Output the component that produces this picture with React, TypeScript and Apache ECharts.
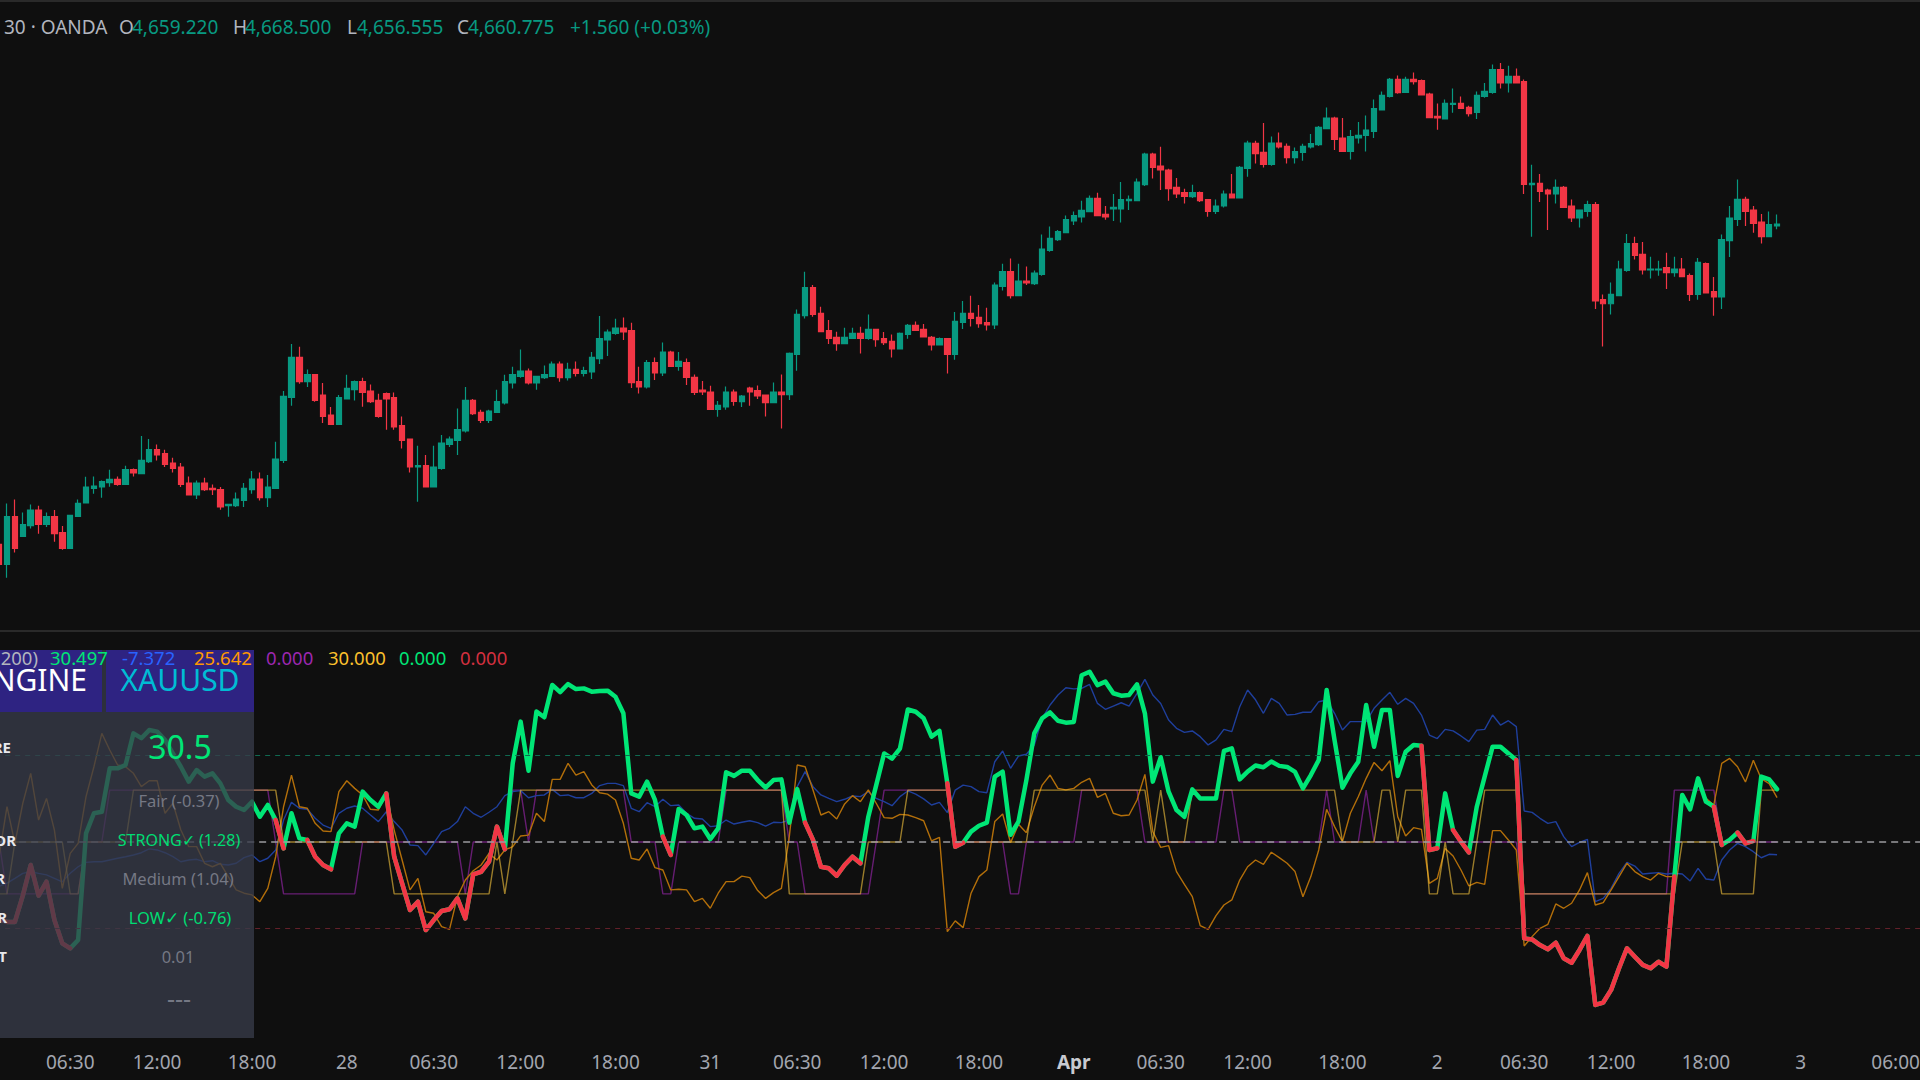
import { useEffect, useRef } from 'react';
import * as echarts from 'echarts';

// 30 min XAUUSD candles, first one sits just off the left edge
const opens = [
  4404.5,4388.5,4426.7,4410.9,4419.5,4432,4420.5,4426.7,4413.9,4401.3,
  4426.9,4437.6,4449.3,4450.4,4453.9,4456.5,4452.5,4464.3,4461.1,4470.7,
  4480.3,4477.1,4469.6,4466.4,4453.6,4444,4453.6,4449.3,4448.3,4435.5,
  4435.5,4439.7,4448.3,4456.8,4441.9,4449.3,4471.7,4522.1,4554.1,4534.7,
  4540.3,4524,4508,4500.5,4520.8,4528.3,4534.7,4527.2,4519.7,4525.1,
  4521.9,4499.5,4488.8,4466.4,4467.5,4450.4,4465.3,4484.5,4487.7,4495.2,
  4519.7,4510.1,4503.7,4510.1,4517.6,4533.6,4538.9,4543.2,4533.6,4537.9,
  4538.9,4548.8,4537.9,4544.5,4541.3,4542.4,4553.1,4568,4573.3,4577.6,
  4575.5,4534.7,4530.4,4549.9,4541.6,4558.4,4546.9,4549.9,4538.1,4528,
  4526.4,4512.5,4514.4,4526.4,4518.7,4529.6,4527.5,4524,4517.9,4526.4,
  4524.3,4556.5,4587.5,4609.9,4589.3,4575.5,4570.1,4565.1,4569.3,4573.3,
  4569.3,4576.5,4569.1,4566.9,4560.8,4572.5,4579.7,4576.5,4570.1,4564,
  4569.1,4556.5,4582.1,4589.3,4586.1,4581.9,4580,4610.9,4622.7,4603.5,
  4615.2,4613.1,4620.5,4639.7,4648.3,4653.9,4663.2,4666.4,4670.7,4681.3,
  4668.5,4672.8,4672.8,4679.5,4679.5,4692.3,4716.8,4707.2,4704,4690.1,
  4685.9,4682.7,4685.9,4680.3,4670.9,4675.2,4684.8,4681.6,4705.3,4725.3,
  4718.1,4708.5,4725.6,4722.9,4713.9,4718.1,4722.4,4724.3,4737.1,4745.6,
  4729.6,4718.9,4729.6,4731.7,4734.9,4752,4762.9,4776.5,4766.1,4776.5,
  4775.5,4764.8,4746.9,4744.8,4756.5,4757.3,4754.1,4750.1,4762.9,4766.1,
  4784.3,4773.6,4778.9,4774.7,4692.3,4693.3,4688,4684.8,4690.1,4675.2,
  4665.6,4670.9,4676.3,4600.3,4597,4603.5,4623.7,4645.1,4636.5,4624,
  4624,4625.9,4621.9,4624.8,4619.5,4604.5,4629.1,4606.7,4602.4,4647.5,
  4664.5,4680.5,4672,4662.4,4650.7,4659.22,
];
const highs = [
  4408,4437.3,4440.5,4430.1,4436.5,4435.5,4430.1,4432,4419.2,4428,
  4440.5,4458.7,4458.9,4455.7,4464.3,4458.9,4467.5,4465.3,4491.2,4488.8,
  4484.5,4480.3,4473.9,4469.6,4458.9,4455.7,4457.9,4452.5,4450.4,4436.6,
  4446.1,4453.6,4463.2,4462.1,4460,4486.7,4527.2,4564.8,4562.7,4544.5,
  4540.5,4533.6,4514.4,4524,4540.3,4535.7,4537.9,4532.5,4525.1,4526.1,
  4526.1,4506.9,4489,4483.5,4476,4483.5,4492,4490.9,4513.3,4530.4,
  4520.8,4512.3,4512.3,4528.3,4540.3,4546.7,4560.5,4545.3,4539,4547.7,
  4550.9,4550.9,4549.9,4550.9,4546.7,4558.4,4587.2,4576.5,4585.1,4586.1,
  4581.9,4546.7,4552,4554.1,4566.1,4559.5,4558.4,4553.3,4540.5,4535.2,
  4531.5,4519.2,4530.9,4528.5,4524,4530.7,4531.7,4524.2,4534.1,4540.5,
  4558.1,4592.5,4622.7,4612,4594.7,4584,4574.7,4577.9,4577.9,4578.7,
  4588.5,4576.8,4574.4,4572.5,4574.1,4580.8,4582.9,4580.8,4571.2,4570.1,
  4569.3,4590.4,4599.2,4603.5,4596,4593.9,4614.1,4629.1,4633.3,4629.1,
  4626.9,4623.7,4652.5,4658.9,4656,4667.7,4670.9,4679.5,4683.7,4685.9,
  4675.2,4684.8,4694.4,4683.7,4697.3,4717.9,4717.9,4722.7,4705,4697.6,
  4689.1,4692.3,4686.9,4680.5,4680.5,4687.7,4700.8,4707.2,4727.5,4727.5,
  4741.6,4730.9,4734.1,4725.3,4722.1,4725.1,4732.8,4739.2,4754.1,4746.7,
  4745.6,4736,4742.4,4747.7,4760.5,4766.9,4777.6,4779.7,4778.7,4782.1,
  4776.5,4765.9,4757.3,4760.5,4769.3,4762.9,4755.5,4766.9,4773.6,4788.5,
  4789.6,4787.5,4785.3,4776.5,4708.3,4700.8,4689.1,4696.5,4691.2,4680.5,
  4672.2,4679.5,4678.4,4604.5,4614.1,4631.5,4652.8,4650.7,4646.4,4634.7,
  4631.5,4637.9,4634.7,4633.6,4621.3,4633.6,4630.1,4618.4,4652.5,4675.2,
  4696.5,4682.7,4675.2,4668.8,4670.9,4668.5,
];
const lows = [
  4386,4377.9,4398.1,4410.5,4417.3,4413.1,4418.4,4406.7,4400.3,4401,
  4426.4,4437.3,4445.1,4441.9,4450.7,4451.5,4452.3,4458.9,4461,4469.6,
  4471.7,4466.4,4462.1,4450.4,4443.8,4440.8,4447.2,4444,4432.3,4426.7,
  4434.4,4434.4,4445.1,4439.7,4434.4,4449.1,4469.6,4515.5,4533.1,4530.4,
  4518.7,4501.6,4500.3,4500.3,4520.6,4519.7,4514.7,4517.6,4505.9,4496.3,
  4496.3,4481.3,4462.1,4438.7,4450.2,4450.2,4464.3,4482.4,4476,4494.1,
  4508,4501.6,4501.6,4510,4516.5,4529.3,4537.9,4532.5,4528.3,4536.8,
  4538.7,4534.7,4535.7,4538.9,4538.9,4536.8,4548.8,4555.2,4572.3,4568,
  4529.6,4525.3,4529.3,4536,4539.2,4546.7,4543.5,4532,4524,4524,
  4512.3,4506.7,4512.3,4515.5,4514.4,4515.5,4520.8,4506.9,4517.7,4497.3,
  4520,4543.5,4585.3,4586.7,4574.5,4564.8,4559.5,4564.9,4569,4557.3,
  4568.3,4562.7,4564,4554.1,4560.5,4569.1,4575.5,4570.1,4559.7,4563.8,
  4541.3,4552.3,4576.8,4578.9,4577.9,4575.7,4576.8,4607.7,4601.3,4603.3,
  4612,4612,4619.5,4638.7,4647.2,4653.7,4660,4662.1,4670.5,4667.3,
  4664.3,4663.2,4662.1,4672,4679.3,4691.2,4697.3,4688,4679.5,4681.6,
  4677.3,4681.6,4678.4,4666.7,4668.8,4674.1,4681.4,4681.4,4698.7,4709.3,
  4706.1,4707.5,4721.3,4709.3,4709.3,4711.5,4721.3,4723.2,4736.9,4720,
  4718.7,4712.5,4725.3,4718.9,4729.6,4751.8,4762.1,4765.1,4765.9,4772.5,
  4763.8,4745.7,4736.3,4744.6,4749.9,4753.1,4746.9,4744.8,4761.9,4765.1,
  4769.3,4766.1,4773.4,4684.8,4650.7,4678.4,4656,4677.3,4673.9,4662.4,
  4658.1,4666.7,4592.8,4562.9,4588.5,4603.3,4622.7,4632.5,4620.5,4617.3,
  4619.5,4608.8,4618.7,4618.5,4599.2,4600.3,4605.4,4587.5,4592.8,4634.4,
  4659.2,4659.2,4653.9,4645.3,4650.5,4656.555,
];
const closes = [
  4388.5,4426.7,4401.3,4420.3,4432,4420.5,4426.7,4413.1,4401.3,4427.7,
  4437.3,4450.4,4451.2,4454.7,4456.5,4452.5,4464.3,4461.6,4471.7,4480.3,
  4476,4468.5,4465.3,4452.5,4444,4453.6,4448.3,4448.3,4434.4,4436.5,
  4440.8,4449.3,4456.8,4441.9,4450.4,4472.8,4522.9,4554.1,4534.7,4540.3,
  4519.7,4506.9,4500.5,4521.9,4529.3,4534.7,4526.1,4518.7,4506.9,4520.8,
  4498.4,4487.7,4466.4,4467.5,4450.4,4466.4,4485.6,4488.8,4496.3,4519.7,
  4509.1,4503.7,4511.2,4518.7,4534.7,4540.3,4543.2,4533.6,4538.9,4540.3,
  4548.8,4537.9,4544.5,4541.3,4543.5,4554.1,4569.1,4574.4,4577.6,4574.4,
  4533.9,4530.4,4549.9,4541.6,4558.4,4546.9,4550.9,4538.1,4526.1,4526.4,
  4512.5,4515.7,4526.4,4518.9,4523.2,4526.4,4523.2,4517.9,4526.4,4524.3,
  4557.3,4588.5,4609.9,4588.5,4574.7,4569.3,4565.1,4570.1,4573.3,4569.3,
  4576.5,4568.3,4565.9,4560.8,4573.3,4579.7,4575.7,4570.4,4564,4569.1,
  4556.5,4582.9,4589.3,4585.3,4581.1,4580,4612,4622.7,4603.5,4615.2,
  4613.6,4621.6,4640.8,4649.3,4654.7,4664.3,4667.5,4671.7,4681.3,4667.5,
  4666.4,4674.1,4680.3,4680.5,4694.4,4716.8,4706.1,4704,4689.1,4684.8,
  4682.9,4685.9,4679.5,4670.9,4675.2,4684.8,4681.6,4706.1,4725.6,4717.1,
  4708.5,4725.6,4722.4,4713.9,4718.7,4722.9,4725.1,4738.1,4745.6,4728.5,
  4718.9,4730.7,4731.7,4736,4753.1,4763.7,4776.5,4765.9,4776.5,4774.7,
  4764,4745.9,4745.6,4757.3,4757.3,4753.3,4749.1,4763.7,4766.9,4784.3,
  4773.6,4778.9,4773.6,4692.5,4693.3,4686.9,4684.8,4690.1,4674.1,4665.6,
  4672,4676.3,4599.2,4597,4604.5,4624.8,4645.1,4635.7,4624,4624.8,
  4624.8,4621.9,4624.8,4618.7,4604.5,4630.1,4605.6,4602.4,4648.3,4665.6,
  4680.5,4670.9,4661.3,4650.7,4660.3,4660.775,
];

// lower pane, thick line
const mainValues = [
  -44.5,-46.2,-46.2,-31,-13.3,-31,-22.9,-45.1,-58.6,-61.5,
  -56.6,5,16.6,17.5,42.6,42.6,44.5,62.8,60,64.7,
  63.8,59,51.2,43.5,34.9,41.6,37.8,39.7,33.9,24.3,
  20.4,18.5,23.3,14.6,21.4,12.7,-3.7,16.6,2.1,1.2,
  -8.5,-13.3,-15.8,5,10.8,8.9,29.1,24.3,20.4,28.1,
  -8.5,-23.9,-39.3,-34.5,-50.9,-45.1,-39.9,-38.9,-32.6,-44.2,
  -18.7,-17.2,-11.4,8.9,-4.2,45.5,69.6,41.2,75.4,72.1,
  90.8,86.6,91.3,88.4,88.8,86.9,87.3,87.5,84,74.4,
  28.1,26.2,34.9,24.3,3.1,-7.5,19.1,15.6,7.9,8.9,
  1.7,7.9,40.3,38.2,41.2,41.2,35.8,31.4,35.8,36.2,
  11.2,30.6,11.2,1.2,-14.3,-15.2,-19.5,-13.3,-8.5,-12.3,
  14.6,32.9,51.2,48.2,54,76.6,75.3,71.5,60.9,64.2,
  33.9,-2.7,-0.4,6,9.4,11.2,37.8,40.7,4.2,11.8,
  35.8,62.8,71.5,74.9,70.1,69,69.4,96.4,98.4,90.7,
  92.7,86,84.6,85,91.1,74.4,34.9,49,29.1,18.5,
  14.6,30.4,25.2,25.2,25.2,52.6,54.1,36.2,40.7,44.2,
  43.2,46.5,44,43.4,40.5,31,38.7,47.4,87.9,58.9,
  31.4,39.7,46.4,79.2,55.1,76.3,76.3,38.2,52.2,56.1,
  55.7,-4.6,-3.6,28.1,6.9,0.2,-6,20.4,37.8,55.1,
  55.1,51.2,47.4,-55.7,-56.3,-59.6,-62,-58.2,-67.2,-69.8,
  -62.4,-54.3,-94.2,-92.8,-85.5,-73,-61.4,-66.3,-71,-73,
  -69.2,-72,-20,27.2,18.9,36.8,23.3,20.4,-1.7,1.2,
  5.4,-0.8,0.6,37.8,36.2,30.5,
];
// stretches of the thick line drawn red, as [first, last] positions in mainValues
const redStretches = [
  [0, 9], [35, 36], [39, 42], [49, 62], [63, 64], [84, 85], [102, 109], [120, 122],
  [180, 182], [184, 186], [192, 212], [217, 218], [220, 222],
];

const blueValues = [
  -25.7,-23.8,-21,-18.1,-17.1,-18.1,-19,-21,-23,-18.1,
  -14.3,-11.8,-11.4,-11.4,-10.4,-9.4,-8.5,-7.5,-6.2,-4,
  -4.6,-6.2,-8.5,-11.4,-10.4,-10,-11.4,-10.8,-12.9,-13.3,
  -12.3,-9,-7.5,-11.4,-9.4,-4.6,12.7,22.9,19.5,18.9,
  13.7,9.8,7.9,16.6,19.5,20.8,19.5,15.6,11.8,17.5,
  11.8,6.9,-1.7,-2.1,-7.5,-0.8,6,7.9,11.8,20.4,
  16.6,14.3,17.2,20.4,26.8,29.1,29.7,25.6,26.8,27.2,
  30.4,26.8,27.2,25.6,25.6,28.1,32.6,33.9,33.9,32.6,
  19.5,17.5,22.7,20.4,24.7,21,21.4,16.6,13.7,13.3,
  8.9,9.4,12.7,10.4,11.4,12.3,11.2,9.2,11.4,11.2,
  12.7,32,40.7,32,27.2,25.2,23.3,24.7,26.6,26.2,
  29.1,25.2,23.3,21,26.2,29.5,27.7,24.9,21.4,22.9,
  17,30,32.9,32,29.1,28.5,46.4,52.6,42.6,49.7,
  50.7,56.1,71.5,79.2,85,89.2,88.5,88.8,91.1,80.1,
  76.7,78.6,80.5,78.6,85.9,94,85,80.1,70.5,65.7,
  63.4,64.2,60.9,56.1,59,65.1,63.8,78.2,87.9,82.2,
  74.4,83,80.1,73.4,73.8,75,75,81.1,82.1,74.4,
  64.7,69.6,69.6,69.6,77.3,82.1,86.5,79.6,83,80.1,
  73.4,61.8,59.8,65.1,64.2,61.3,58,64.7,65.1,73.4,
  67.6,70.1,66.7,17.9,17.1,13.7,10.8,11.8,3.1,-2.7,
  -0.2,1.5,-34.5,-32.6,-26.8,-18.1,-11.8,-13.9,-18.5,-18.1,
  -17.7,-18.5,-18.1,-18.5,-22.5,-15.2,-21.4,-22,-10.4,-4.6,
  -0.8,-2.7,-5.6,-9.1,-7.1,-7.372,
];

const orangeValues = [
  -8,20.4,-0.8,22.4,39.7,12.7,25.2,6.9,-26.8,-6.6,
  -0.8,26.2,43.5,62.8,53.2,44.5,43.5,39.7,32,35.4,
  35.4,16.6,22.4,6.9,-2.7,-2.7,-12.3,-14.3,-12.3,-20,
  -27.7,-29.6,-30.6,-34.5,-26.8,-8.5,20.4,38.7,20.4,19.5,
  10.8,6.4,6,29.1,35.4,31,27.2,18.9,18.5,28.1,
  6.9,-10.4,-27.7,-21,-40.3,-41.2,-48.9,-50.5,-31.6,-22,
  -16.6,-13.3,-6.6,-10.4,-4.6,-2.7,3.5,4,16.6,11.8,
  36.2,36.2,45.5,38.7,40.7,33,28.5,27.7,24.3,10.8,
  -9.4,-10.4,-4,-14.8,-16.2,-27.7,-27.3,-27.7,-34.5,-32.6,
  -38.3,-29.6,-22.9,-22.9,-19.7,-20.6,-28.1,-32.6,-29.3,-26.8,
  3.1,44.5,43.5,30.1,15.6,17.5,13.3,22,26.8,23.3,
  30.1,22.4,14.1,13.7,16,15.6,14.1,12.3,0.6,2.7,
  -51.8,-45.6,-49.5,-29.6,-20,-16.2,11.8,16.2,-0.4,10.2,
  5.4,20.4,32.9,38.7,31,30.1,31,34.5,36.8,25.8,
  28.1,16.6,15.2,15.6,24.3,39.1,6,-3.1,-2.1,-17.1,
  -24.5,-31.6,-48.3,-50.5,-42.6,-36.4,-33.5,-22,-14.3,-10.4,
  -12.9,-5.9,-9,-12.3,-17.1,-31.6,-20,-4.6,18.9,8.9,
  0.2,16.6,26.2,36.8,46,41.2,47,14.6,3.5,8.3,
  7.3,-23.9,-21,-3.7,-8.1,-16.2,-25.4,-23.3,-24.5,6.6,
  6.6,1.2,-4.6,-60.1,-54.7,-49.9,-47.6,-35.8,-38.3,-35.4,
  -27.7,-17.7,-36.4,-35,-27.7,-20,-12.3,-17.1,-20,-22,
  -18.1,-20,-20,25.2,19.5,36.8,25.2,21.4,45.5,48.3,
  43.5,34.7,47.2,36.6,33.7,25.642,
];

const purpleSteps = [
  0,-30,-30,-30,-30,-30,-30,-30,-30,-30,
  -30,0,0,0,30,30,30,30,30,30,
  30,30,30,30,30,30,30,30,30,30,
  30,30,30,30,30,0,-30,-30,-30,-30,
  -30,-30,-30,-30,-30,-30,0,0,0,0,
  0,0,0,0,0,0,0,0,0,-30,
  0,0,0,0,0,30,30,0,30,30,
  30,30,30,30,30,30,30,30,30,30,
  0,0,0,0,-30,-30,0,0,0,0,
  0,0,30,30,30,30,30,30,30,30,
  0,0,-30,-30,-30,-30,-30,-30,-30,-30,
  -30,0,30,30,30,30,30,30,30,30,
  30,0,0,0,0,0,0,0,-30,-30,
  0,0,0,0,0,0,0,30,30,30,
  30,30,30,30,30,0,0,0,0,0,
  0,0,0,0,0,30,30,0,0,0,
  0,0,0,0,0,0,0,0,30,0,
  0,0,0,30,0,0,0,0,0,0,
  0,0,0,0,0,0,0,0,0,0,
  0,0,0,-30,-30,-30,-30,-30,-30,-30,
  -30,-30,-30,-30,-30,-30,-30,-30,-30,-30,
  -30,-30,30,30,30,30,30,30,0,0,
  0,0,0,0,0,0,
];

const yellowSteps = [
  -30,-30,0,0,0,0,0,0,0,-30,
  -30,0,0,0,0,0,0,30,30,30,
  30,30,30,30,30,30,30,30,30,30,
  30,30,30,30,30,30,0,0,0,0,
  0,0,0,0,0,0,0,0,0,0,
  -30,-30,-30,-30,-30,-30,-30,-30,-30,-30,
  -30,-30,-30,0,-30,0,30,30,30,30,
  30,30,30,30,30,30,30,30,30,30,
  30,30,30,30,30,30,30,30,30,30,
  30,30,30,30,30,30,30,30,30,30,
  -30,-30,-30,-30,-30,-30,-30,-30,-30,-30,
  0,0,0,0,0,30,30,30,30,30,
  30,0,0,0,0,0,0,0,0,0,
  0,30,30,30,30,30,30,30,30,30,
  30,30,30,30,30,30,0,30,0,0,
  0,30,30,30,30,30,30,30,30,30,
  30,30,30,30,30,30,30,30,30,30,
  0,0,0,0,0,30,30,0,30,30,
  30,-30,-30,0,-30,-30,-30,0,30,30,
  30,30,30,-30,-30,-30,-30,-30,-30,-30,
  -30,-30,-30,-30,-30,-30,-30,-30,-30,-30,
  -30,-30,-30,0,0,0,0,0,-30,-30,
  -30,-30,-30,30,30,30,
];

const levels = [50, 0, -50];

// time axis, [slot, label]; slot 0 is the first candle
const tickLabels: [number, string][] = [
  [9, '06:30'], [20, '12:00'], [32, '18:00'], [44, '28'], [55, '06:30'], [66, '12:00'],
  [78, '18:00'], [90, '31'], [101, '06:30'], [112, '12:00'], [124, '18:00'], [136, 'Apr'],
  [147, '06:30'], [158, '12:00'], [170, '18:00'], [182, '2'], [193, '06:30'], [204, '12:00'],
  [216, '18:00'], [228, '3'], [240, '06:00'],
];

const slotCount = 244;
const slots: string[] = Array(slotCount).fill('');
tickLabels.forEach(([slot, label]) => {
  slots[slot] = label;
});
const tickSlots = new Set(tickLabels.map(t => t[0]));

const GREEN = '#089981';
const RED = '#f23645';
const NEON = '#00e676';
const GREY = '#b2b5be';
const FONT = '"Noto Sans", sans-serif';

const label = (text: string, x: number, y: number, fill: string, size: number, align = 'left', weight = 'normal') => ({
  type: 'text',
  x,
  y,
  z: 110,
  silent: true,
  style: {
    text,
    fill,
    font: `${weight} ${size}px ${FONT}`,
    textAlign: align,
    textVerticalAlign: 'middle',
  },
});

const stepLine = (data: number[], color: string) => ({
  type: 'line',
  xAxisIndex: 1,
  yAxisIndex: 1,
  data,
  symbol: 'none',
  lineStyle: { color, width: 1.4 },
});

const App = () => {
  const chartRef = useRef<HTMLDivElement>(null);

  useEffect(() => {
    if (!chartRef.current) return;
    const chart = echarts.init(chartRef.current, undefined, { renderer: 'svg' });

    const candles = opens.map((o, i) => [o, closes[i], lows[i], highs[i]]);
    const redMain = mainValues.map((v, i) =>
      redStretches.some(([a, b]) => i >= a && i <= b) ? v : null
    );

    const option: any = {
      animation: false,
      backgroundColor: '#0f0f0f',
      grid: [
        { left: -4.85, width: 1928.1, top: 0, height: 630, outerBoundsMode: 'none' },
        { left: -4.85, width: 1928.1, top: 632, height: 408, outerBoundsMode: 'none' },
      ],
      xAxis: [
        {
          type: 'category',
          gridIndex: 0,
          data: slots,
          axisLine: { show: false },
          axisTick: { show: false },
          axisLabel: { show: false },
          splitLine: { show: false },
        },
        {
          type: 'category',
          gridIndex: 1,
          data: slots,
          axisLine: { show: false },
          axisTick: { show: false },
          splitLine: { show: false },
          axisLabel: {
            color: '#a3a6af',
            fontFamily: FONT,
            fontSize: 19,
            margin: 12,
            hideOverlap: false,
            interval: (index: number) => tickSlots.has(index),
            formatter: (value: string) => (value === 'Apr' ? '{bold|Apr}' : value),
            rich: {
              bold: { color: '#c8cad0', fontFamily: FONT, fontSize: 19, fontWeight: 'bold' },
            },
          },
        },
      ],
      yAxis: [
        { type: 'value', gridIndex: 0, min: 4336, max: 4840, show: false },
        { type: 'value', gridIndex: 1, min: -114.45, max: 121.39, show: false },
      ],
      series: [
        {
          type: 'candlestick',
          xAxisIndex: 0,
          yAxisIndex: 0,
          data: candles,
          barWidth: 6,
          itemStyle: {
            color: GREEN,
            color0: RED,
            borderColor: GREEN,
            borderColor0: RED,
            borderColorDoji: GREEN,
            borderWidth: 1.2,
          },
        },
        {
          ...stepLine(purpleSteps, 'rgba(156,39,176,0.62)'),
          markLine: {
            silent: true,
            symbol: 'none',
            label: { show: false },
            data: [
              { yAxis: levels[0], lineStyle: { color: '#0f6a50', width: 1.2, type: [5, 5] } },
              { yAxis: levels[1], lineStyle: { color: '#9b9b9f', width: 1.5, type: [7, 5] } },
              { yAxis: levels[2], lineStyle: { color: '#64202a', width: 1.2, type: [5, 5] } },
            ],
          },
        },
        stepLine(blueValues, '#1f3f9c'),
        stepLine(orangeValues, '#b36f0a'),
        stepLine(yellowSteps, 'rgba(240,192,60,0.62)'),
        {
          type: 'line',
          xAxisIndex: 1,
          yAxisIndex: 1,
          data: mainValues,
          symbol: 'none',
          lineStyle: { color: NEON, width: 4.5, join: 'round', cap: 'round' },
        },
        {
          type: 'line',
          xAxisIndex: 1,
          yAxisIndex: 1,
          data: redMain,
          symbol: 'none',
          connectNulls: false,
          lineStyle: { color: RED, width: 4.5, join: 'round', cap: 'round' },
        },
      ],
      graphic: [
        // pane edges
        { type: 'rect', z: 100, shape: { x: 0, y: 0, width: 1920, height: 2 }, style: { fill: '#2a2a2a' } },
        { type: 'rect', z: 100, shape: { x: 0, y: 630, width: 1920, height: 2 }, style: { fill: '#2a2a2a' } },
        // info panel, the lines show through its body
        { type: 'rect', z: 100, shape: { x: 0, y: 712, width: 254, height: 326 }, style: { fill: 'rgba(55,59,73,0.78)' } },
        { type: 'rect', z: 100, shape: { x: 0, y: 650, width: 102, height: 62 }, style: { fill: '#2e2382' } },
        { type: 'rect', z: 100, shape: { x: 106, y: 650, width: 148, height: 62 }, style: { fill: '#2e2382' } },
        { type: 'rect', z: 100, shape: { x: 102, y: 650, width: 4, height: 62 }, style: { fill: '#2d303b' } },

        // price header
        label('30 · OANDA', 4, 27, GREY, 19),
        label('O', 119, 27, GREY, 19),
        label('4,659.220', 132, 27, GREEN, 19),
        label('H', 233, 27, GREY, 19),
        label('4,668.500', 245, 27, GREEN, 19),
        label('L', 347, 27, GREY, 19),
        label('4,656.555', 357, 27, GREEN, 19),
        label('C', 457, 27, GREY, 19),
        label('4,660.775', 468, 27, GREEN, 19),
        label('+1.560 (+0.03%)', 570, 27, GREEN, 19),

        // indicator readout
        label('200)', 38, 657, GREY, 18.5, 'right'),
        label('30.497', 50, 657, NEON, 18.5),
        label('-7.372', 122, 657, '#2962ff', 18.5),
        label('25.642', 194, 657, '#ff9800', 18.5),
        label('0.000', 266, 657, '#9c27b0', 18.5),
        label('30.000', 328, 657, '#fbc02d', 18.5),
        label('0.000', 399, 657, NEON, 18.5),
        label('0.000', 460, 657, '#d32f3f', 18.5),

        // panel texts
        label('NGINE', 87, 679, '#ffffff', 30, 'right'),
        label('XAUUSD', 180, 679, '#00bcd4', 30, 'center'),
        label('RE', 11, 747, '#e8e8ec', 15, 'right', 'bold'),
        label('30.5', 180, 746, NEON, 32, 'center'),
        label('Fair (-0.37)', 179, 800, '#757884', 16.5, 'center'),
        label('OR', 16, 840, '#e8e8ec', 15, 'right', 'bold'),
        label('STRONG✓ (1.28)', 179, 840, '#00dc72', 16, 'center'),
        label('R', 5, 878, '#e8e8ec', 15, 'right', 'bold'),
        label('Medium (1.04)', 178, 878, '#757884', 16.5, 'center'),
        label('R', 7, 917, '#e8e8ec', 15, 'right', 'bold'),
        label('LOW✓ (-0.76)', 180, 917, '#00dc72', 16.5, 'center'),
        label('T', 7, 956, '#e8e8ec', 15, 'right', 'bold'),
        label('0.01', 178, 956, '#757884', 16.5, 'center'),
        label('---', 179, 998, '#757884', 25, 'center'),
      ],
    };

    chart.setOption(option);
    return () => chart.dispose();
  }, []);

  return (
    <div
      ref={chartRef}
      style={{ position: 'fixed', left: 0, top: 0, width: 1920, height: 1080, overflow: 'hidden' }}
    />
  );
};

export default App;
